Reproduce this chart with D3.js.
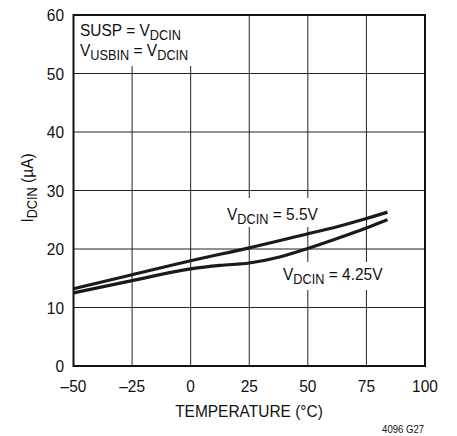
<!DOCTYPE html>
<html>
<head>
<meta charset="utf-8">
<script src="https://cdn.jsdelivr.net/npm/d3@7"></script>
<style>
  body { margin: 0; background: #fff; }
  svg text { font-family: "Liberation Sans", Arial, sans-serif; fill: #111; }
</style>
</head>
<body>
<svg id="main-svg" width="457" height="436"></svg>
<script>
// data
let xTicks = [-50, -25, 0, 25, 50, 75, 100];
let yTicks = [0, 10, 20, 30, 40, 50, 60];
let temp55 = [-50, -25, 0, 25, 50, 62.5, 75, 84];
let curr55 = [13.2, 15.6, 18.0, 20.2, 22.6, 23.8, 25.2, 26.3];
let temp425 = [-50, -25, 0, 12.5, 25, 37.5, 50, 62.5, 75, 84];
let curr425 = [12.5, 14.6, 16.6, 17.2, 17.6, 18.6, 20.1, 21.8, 23.6, 25.0];

let svg = d3.select("#main-svg");
let plotLeft = 73.5, plotRight = 425, plotTop = 15, plotBottom = 366;
let squeeze = 0.91; // narrow-font look

let x = d3.scaleLinear().domain([-50, 100]).range([plotLeft, plotRight]);
let y = d3.scaleLinear().domain([0, 60]).range([plotBottom, plotTop]);

let gridLayer = svg.append("g");
let maskLayer = svg.append("g");
let curveLayer = svg.append("g");
let textLayer = svg.append("g");

// grid lines
gridLayer.selectAll(".vg").data(xTicks).enter().append("line")
    .attr("x1", d => x(d)).attr("x2", d => x(d))
    .attr("y1", plotTop).attr("y2", plotBottom)
    .attr("stroke", "#222").attr("stroke-width", 1);
gridLayer.selectAll(".hg").data(yTicks).enter().append("line")
    .attr("x1", plotLeft).attr("x2", plotRight)
    .attr("y1", d => y(d)).attr("y2", d => y(d))
    .attr("stroke", "#222").attr("stroke-width", 1);

// white patches behind labels
maskLayer.append("rect").attr("x", plotLeft + 1).attr("y", plotTop + 1).attr("width", 126).attr("height", 50).attr("fill", "#fff");
maskLayer.append("rect").attr("x", 222).attr("y", 198).attr("width", 106).attr("height", 29).attr("fill", "#fff");
maskLayer.append("rect").attr("x", 278).attr("y", 262).attr("width", 114).attr("height", 28).attr("fill", "#fff");

// frame
svg.append("rect").attr("x", plotLeft).attr("y", plotTop)
    .attr("width", plotRight - plotLeft).attr("height", plotBottom - plotTop)
    .attr("fill", "none").attr("stroke", "#111").attr("stroke-width", 2);

// curves
let line = d3.line().curve(d3.curveMonotoneX)
    .x(d => x(d[0])).y(d => y(d[1]));

[d3.zip(temp55, curr55), d3.zip(temp425, curr425)].forEach(function (pts) {
    curveLayer.append("path").datum(pts)
        .attr("d", line)
        .attr("fill", "none").attr("stroke", "#1a1a1a")
        .attr("stroke-width", 3.2);
});

// text placed inside a squeezed group
function addText(px, py, anchor, size, rot) {
    return textLayer.append("g")
        .attr("transform", "translate(" + px + "," + py + ")" + (rot ? " rotate(" + rot + ")" : "") + " scale(" + squeeze + ",1)")
        .append("text")
        .attr("text-anchor", anchor).attr("font-size", size);
}

xTicks.forEach(function (d) {
    addText(x(d), 392, "middle", 17).text(d < 0 ? "\u2013" + Math.abs(d) : d);
});
yTicks.forEach(function (d) {
    addText(64, y(d) + 6, "end", 17).text(d);
});

addText(249, 417, "middle", 17).text("TEMPERATURE (\u00B0C)");

let yl = addText(33, 188, "middle", 17, -90);
yl.append("tspan").text("I");
yl.append("tspan").attr("dy", 4).attr("font-size", 14).text("DCIN");
yl.append("tspan").attr("dy", -4).text(" (\u00B5A)");

// subscripted label helper
function subLabel(px, py, parts) {
    let t = addText(px, py, "start", 17);
    let shifted = false;
    parts.forEach(function (p) {
        let s = t.append("tspan").text(p[0]);
        if (p[1] && !shifted) { s.attr("dy", 4).attr("font-size", 14); shifted = true; }
        else if (!p[1] && shifted) { s.attr("dy", -4); shifted = false; }
    });
}

subLabel(80, 36, [["SUSP = V"], ["DCIN", true]]);
subLabel(80, 56, [["V"], ["USBIN", true], [" = V"], ["DCIN", true]]);
subLabel(227, 220, [["V"], ["DCIN", true], [" = 5.5V"]]);
subLabel(283, 280, [["V"], ["DCIN", true], [" = 4.25V"]]);

addText(424, 433, "end", 10.5).text("4096 G27");
</script>
</body>
</html>
